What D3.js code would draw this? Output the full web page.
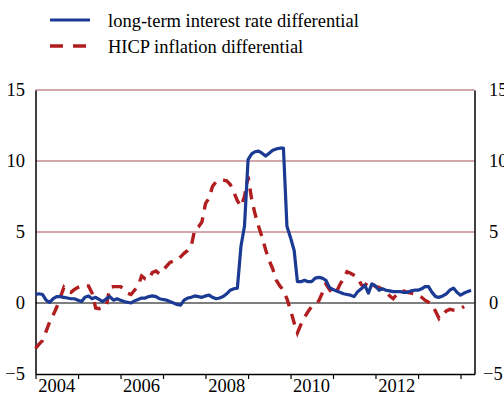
<!DOCTYPE html>
<html>
<head>
<meta charset="utf-8">
<script src="https://cdn.jsdelivr.net/npm/d3@7"></script>
<style>
  html, body { margin: 0; padding: 0; background: #fff; }
  svg { display: block; }
</style>
</head>
<body>
<div id="chart"></div>
<script>
// Monthly series, first observation January 2004
const startMonth = new Date(2004, 0, 1);

// Long-term interest rate differential (percentage points)
const interestDiff = [
  0.6, 0.65, 0.6, 0.2, 0.05, 0.3, 0.45, 0.45, 0.4, 0.35, 0.3, 0.3,
  0.2, 0.1, 0.4, 0.5, 0.3, 0.4, 0.25, 0.1, 0.3, 0.45, 0.2, 0.3,
  0.2, 0.1, 0.05, 0.0, 0.15, 0.25, 0.35, 0.35, 0.45, 0.5, 0.45, 0.3,
  0.25, 0.2, 0.1, 0.0, -0.1, -0.15, 0.2, 0.35, 0.4, 0.5, 0.45, 0.4,
  0.5, 0.55, 0.4, 0.3, 0.35, 0.45, 0.65, 0.9, 1.0, 1.05, 4.0, 5.4,
  10.1, 10.5, 10.65, 10.7, 10.55, 10.35, 10.55, 10.75, 10.85, 10.9, 10.9, 5.4,
  4.6, 3.7, 1.5, 1.5, 1.6, 1.5, 1.5, 1.75, 1.8, 1.75, 1.6, 1.1,
  0.95, 0.85, 0.75, 0.65, 0.6, 0.55, 0.45, 0.8, 1.0, 1.25, 0.7, 1.35,
  1.2, 0.9, 1.0, 0.9, 0.85, 0.8, 0.8, 0.8, 0.75, 0.75, 0.85, 0.9,
  0.9, 1.0, 1.15, 1.15, 0.75, 0.45, 0.4, 0.5, 0.65, 0.9, 1.05, 0.75,
  0.55, 0.7, 0.8, 0.9
];

// HICP inflation differential (percentage points)
const inflationDiff = [
  -3.2, -2.9, -2.65, -2.0, -1.35, -0.85, -0.3, 0.4, 1.1, 0.8, 0.75, 0.95,
  1.1, 1.2, 1.25, 1.2, 0.7, -0.35, -0.4, -0.3, -0.2, 1.1, 1.15, 1.15,
  1.15, 1.0, 0.7, 0.6, 0.9, 1.2, 1.9, 1.7, 1.65, 2.15, 2.25, 2.05,
  2.3, 2.6, 2.85, 2.95, 3.0, 3.25, 3.5, 3.7, 4.0, 5.2, 5.35, 5.7,
  7.0, 7.4, 8.2, 8.55, 8.65, 8.65, 8.6, 8.35, 7.8, 7.2, 6.8, 7.5,
  8.9, 7.3, 6.3, 5.4, 4.65, 3.75, 3.0, 2.4, 1.6, 1.2, 0.9, 0.3,
  -0.5, -1.4, -2.1, -1.5, -1.0, -0.6, -0.25, -0.1, 0.15, 0.7, 1.35, 0.95,
  0.65, 0.8, 1.3, 1.7, 2.2, 2.1, 1.95, 1.8, 1.3, 1.2, 1.55, 1.35,
  1.15, 1.1, 0.95, 0.8, 0.5, 0.3, 0.6, 0.8, 0.85, 0.75, 0.7, 0.65,
  0.55, 0.4, 0.2, 0.05, -0.1, -0.6, -1.1, -0.85, -0.55, -0.45, -0.5, -0.5,
  -0.4, -0.25
];

const yTicks = [-5, 0, 5, 10, 15];
const gridValues = [5, 10, 15];
const yearTicks = d3.range(2004, 2015);
const yearLabels = [2004, 2006, 2008, 2010, 2012];

const seriesNames = ["long-term interest rate differential", "HICP inflation differential"];
const blue = "#1a3a93";
const red = "#b01e20";
const serif = "'Liberation Serif', 'Times New Roman', Times, 'DejaVu Serif', serif";
const fontSize = 18.5;

const W = 504, H = 394;
const plot = { left: 35.5, right: 474.5, top: 90, bottom: 374 };

const svg = d3.select("#chart").append("svg")
  .attr("width", W).attr("height", H)
  .style("font-family", serif);

const x = d3.scaleTime()
  .domain([new Date(2004, 0, 1), new Date(2014, 4, 1)])
  .range([plot.left, plot.right]);
const y = d3.scaleLinear().domain([-5, 15]).range([plot.bottom, plot.top]);

const monthDate = i => d3.timeMonth.offset(startMonth, i);

// horizontal gridlines
svg.append("g").selectAll("line").data(gridValues).join("line")
  .attr("x1", plot.left).attr("x2", plot.right)
  .attr("y1", d => y(d)).attr("y2", d => y(d))
  .attr("stroke", "#c48b91").attr("stroke-width", 1.6);

// zero line
svg.append("line")
  .attr("x1", plot.left).attr("x2", plot.right)
  .attr("y1", y(0)).attr("y2", y(0))
  .attr("stroke", "#000").attr("stroke-width", 1.2);

// bottom axis: yearly ticks, labels centred on mid-year
const xAxis = d3.axisBottom(x)
  .tickValues(yearTicks.map(yr => new Date(yr, 0, 1)))
  .tickFormat("")
  .tickSizeInner(5).tickSizeOuter(0);
const gx = svg.append("g").attr("transform", `translate(0,${plot.bottom})`).call(xAxis);
gx.select(".domain").attr("stroke", "#000").attr("stroke-width", 1.5);
gx.selectAll(".tick line").attr("stroke", "#000").attr("stroke-width", 1.2);

svg.append("g").selectAll("text").data(yearLabels).join("text")
  .attr("x", d => x(new Date(d, 6, 1)))
  .attr("y", 392)
  .attr("text-anchor", "middle")
  .attr("font-size", fontSize)
  .style("font-family", serif)
  .attr("fill", "#000")
  .text(d => d);

// left and right axis lines with labels
const yAxisL = d3.axisLeft(y).tickValues(yTicks).tickSize(0).tickPadding(10.5);
const gl = svg.append("g").attr("transform", `translate(${plot.left},0)`).call(yAxisL);
gl.select(".domain").attr("stroke", "#000").attr("stroke-width", 1.5);
gl.selectAll(".tick text").attr("font-size", fontSize)
  .style("font-family", serif);

const yAxisR = d3.axisRight(y).tickValues(yTicks).tickSize(0).tickPadding(14.5);
const gr = svg.append("g").attr("transform", `translate(${plot.right},0)`).call(yAxisR);
gr.select(".domain").attr("stroke", "#000").attr("stroke-width", 1.5);
gr.selectAll(".tick text").attr("font-size", fontSize)
  .style("font-family", serif)
  .attr("dx", d => d < 0 ? -6 : 0);

// series lines
const line = d3.line()
  .x((d, i) => x(monthDate(i)))
  .y(d => y(d));

svg.append("path").datum(inflationDiff)
  .attr("d", line)
  .attr("fill", "none")
  .attr("stroke", red).attr("stroke-width", 3.4)
  .attr("stroke-dasharray", "11,8");

svg.append("path").datum(interestDiff)
  .attr("d", line)
  .attr("fill", "none")
  .attr("stroke", blue).attr("stroke-width", 3.2)
  .attr("stroke-linejoin", "round");

// legend
const legend = svg.append("g");
legend.append("line")
  .attr("x1", 50).attr("x2", 90).attr("y1", 20).attr("y2", 20)
  .attr("stroke", blue).attr("stroke-width", 3.2);
legend.append("line")
  .attr("x1", 50).attr("x2", 87).attr("y1", 46).attr("y2", 46)
  .attr("stroke", red).attr("stroke-width", 3.4)
  .attr("stroke-dasharray", "13,10");
legend.selectAll("text").data(seriesNames).join("text")
  .attr("x", 108)
  .attr("y", (d, i) => 27 + i * 25.5)
  .attr("font-size", fontSize)
  .style("font-family", serif)
  .attr("fill", "#000")
  .text(d => d);
</script>
</body>
</html>
